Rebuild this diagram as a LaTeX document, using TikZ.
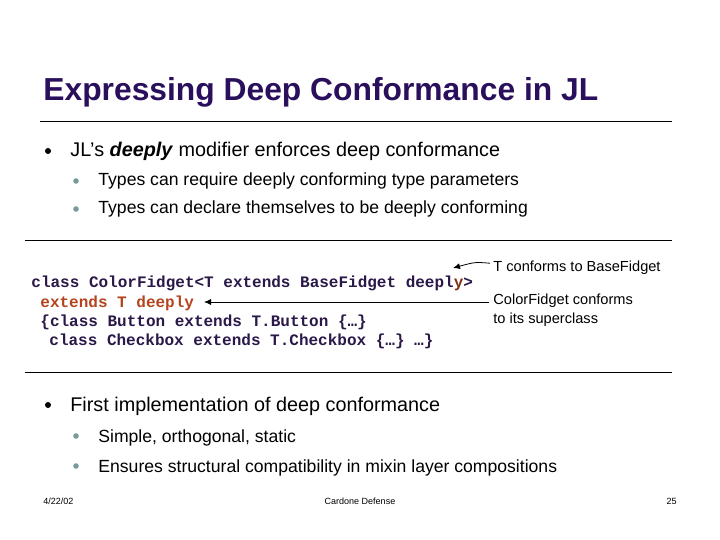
\documentclass[tikz,border=0pt]{standalone}
\usepackage{fontspec}
\setmainfont{Liberation Sans}
\setmonofont{Liberation Mono}
\usetikzlibrary{arrows.meta,positioning}
\definecolor{titlepurple}{HTML}{2A0F5C}
\definecolor{codeblue}{HTML}{2A1848}
\definecolor{codered}{HTML}{B5441E}
\definecolor{subdot}{HTML}{7A9A9A}

\begin{document}
\begin{tikzpicture}[
  x=1pt, y=-1pt,
  txt/.style={anchor=base west, inner sep=0pt, font=\fontsize{19.8}{22}\selectfont},
  subtxt/.style={anchor=base west, inner sep=0pt, font=\fontsize{17.6}{20}\selectfont},
  code/.style={anchor=base west, inner sep=0pt, text=codeblue, font=\ttfamily\bfseries\fontsize{16}{18}\selectfont},
  note/.style={anchor=base west, inner sep=0pt, font=\fontsize{14.6}{18.5}\selectfont},
  foot/.style={inner sep=0pt, font=\fontsize{9}{10}\selectfont},
  rule/.style={line width=0.8pt},
  ->, >={Latex[length=7pt,width=6pt]}, thick
]
\useasboundingbox (0,0) rectangle (720,540);

% Title
\node[anchor=base west, inner sep=0pt, text=titlepurple, font=\bfseries\fontsize{31.8}{34}\selectfont] (title) at (43,101) {Expressing Deep Conformance in JL};
\draw[rule, -] (40,121) -- (672,121);

% First block
\fill (48,151) circle (3);
\node[txt] (b1) at (70,157) {JL’s \textbf{\itshape deeply} modifier enforces deep conformance};
\fill[subdot] (76,181) circle (2.8);
\node[subtxt] (s1) at (98,186) {Types can require deeply conforming type parameters};
\fill[subdot] (76,209) circle (2.8);
\node[subtxt] (s2) at (98,214) {Types can declare themselves to be deeply conforming};
\draw[rule, -] (25,240) -- (672,240);

% Code
\node[code] (c1) at (31,287) {class ColorFidget<T extends BaseFidget deepl\textcolor{codered!70!black}{y}>};
\node[code, text=codered] (c2) at (40,307) {extends T deeply};
\node[code] (c3) at (40,326) {\{class Button extends T.Button \{…\}};
\node[code] (c4) at (49,345) {class Checkbox extends T.Checkbox \{…\} …\}};

% Notes
\node[note] (n1) at (493,271) {T conforms to BaseFidget};
\node[note, align=left, anchor=north west] (n2) at (493,294) {ColorFidget conforms\\to its superclass};
\coordinate (t1) at (453,268);
\coordinate (t2) at (204,302);
\draw (n1.west) ++(-3,-4) .. controls (475,262) .. (t1);
\draw (n2.west |- t2) ++(-4,0) -- (t2);
\draw[rule, -] (25,372) -- (672,372);

% Second block
\fill (48,405) circle (3);
\node[txt] (b2) at (70,411) {First implementation of deep conformance};
\fill[subdot] (76,436) circle (2.8);
\node[subtxt] (s3) at (98,442) {Simple, orthogonal, static};
\fill[subdot] (76,466) circle (2.8);
\node[subtxt] (s4) at (98,472) {Ensures structural compatibility in mixin layer compositions};

% Footer
\node[foot, anchor=west] (date) at (43,501) {4/22/02};
\node[foot] (who) at (360,501) {Cardone Defense};
\node[foot, anchor=east] (page) at (677,501) {25};
\end{tikzpicture}
\end{document}
